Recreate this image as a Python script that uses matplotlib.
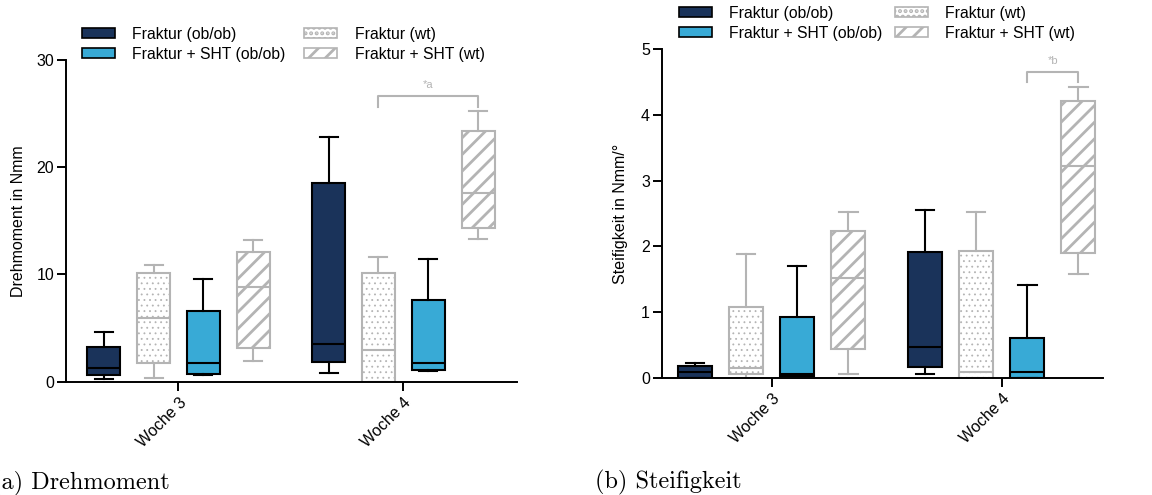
import matplotlib
matplotlib.use('Agg')
import matplotlib.pyplot as plt
from matplotlib.patches import Patch

plt.rcParams['font.family'] = ['Liberation Sans', 'DejaVu Sans']
plt.rcParams['hatch.linewidth'] = 2.0

# Gruppen und Reihen
weeks = ['Woche 3', 'Woche 4']
series = ['Fraktur (ob/ob)', 'Fraktur (wt)', 'Fraktur + SHT (ob/ob)', 'Fraktur + SHT (wt)']

# Drehmoment in Nmm: je Reihe [Woche 3, Woche 4]
torque_whislo = [[0.28, 0.84], [0.31, 0.0], [0.60, 1.03], [1.93, 13.34]]
torque_q1 = [[0.65, 1.81], [1.71, 0.0], [0.68, 1.12], [3.14, 14.34]]
torque_med = [[1.25, 3.55], [5.94, 2.99], [1.77, 1.74], [8.86, 17.63]]
torque_q3 = [[3.24, 18.56], [10.10, 10.17], [6.62, 7.62], [12.07, 23.41]]
torque_whishi = [[4.60, 22.85], [10.86, 11.66], [9.60, 11.44], [13.24, 25.22]]

# Steifigkeit in Nmm/°
stiff_whislo = [[0.0, 0.05], [0.0, 0.0], [0.02, 0.0], [0.05, 1.58]]
stiff_q1 = [[0.0, 0.17], [0.06, 0.0], [0.03, 0.0], [0.43, 1.90]]
stiff_med = [[0.08, 0.47], [0.14, 0.09], [0.06, 0.09], [1.52, 3.23]]
stiff_q3 = [[0.18, 1.92], [1.08, 1.93], [0.93, 0.60], [2.23, 4.22]]
stiff_whishi = [[0.22, 2.55], [1.89, 2.52], [1.70, 1.41], [2.53, 4.42]]

navy = '#1a335a'
blue = '#38aad6'
grey = '#b4b4b4'
styles = [
    dict(face=navy, edge='black', hatch=None),
    dict(face='white', edge=grey, hatch='...'),
    dict(face=blue, edge='black', hatch=None),
    dict(face='white', edge=grey, hatch='//'),
]
step = 0.222
width = 0.148


def draw_boxes(ax, whislo, q1, med, q3, whishi):
    for s in range(len(series)):
        st = styles[s]
        stats = []
        pos = []
        for w in range(len(weeks)):
            stats.append(dict(whislo=whislo[s][w], q1=q1[s][w], med=med[s][w],
                              q3=q3[s][w], whishi=whishi[s][w]))
            pos.append(w + (s - 1.5) * step)
        lw = 0.6 if st['hatch'] == '...' else 2.0
        with plt.rc_context({'hatch.linewidth': lw}):
            ax.bxp(stats, positions=pos, widths=width, capwidths=0.08,
                   showfliers=False, patch_artist=True,
                   boxprops=dict(facecolor=st['face'], edgecolor=st['edge'],
                                 hatch=st['hatch'], linewidth=1.5),
                   medianprops=dict(color=st['edge'], linewidth=1.5),
                   whiskerprops=dict(color=st['edge'], linewidth=1.5),
                   capprops=dict(color=st['edge'], linewidth=1.5))


def style_axis(ax, ylim, yticks, xlim):
    ax.set_xlim(*xlim)
    ax.set_ylim(*ylim)
    ax.set_yticks(yticks)
    ax.set_xticks(range(len(weeks)))
    ax.set_xticklabels(weeks, rotation=45, ha='right', va='top', rotation_mode='anchor')
    for sp in ['top', 'right']:
        ax.spines[sp].set_visible(False)
    for sp in ['left', 'bottom']:
        ax.spines[sp].set_linewidth(1.4)
    ax.tick_params(axis='both', direction='out', length=6.5, width=1.4, labelsize=11.5, pad=2)
    ax.tick_params(axis='x', pad=3)


def bracket(ax, x1, x2, y, drop, label):
    ax.plot([x1, x1, x2, x2], [y - drop, y, y, y - drop], color=grey, lw=1.5, clip_on=False)
    ax.text((x1 + x2) / 2, y + drop * 0.6, label, color=grey, fontsize=8, ha='center', va='bottom')


fig = plt.figure(figsize=(11.52, 4.95), dpi=100)

ax1 = fig.add_axes([0.0573, 0.2289, 0.3915, 0.6499])
draw_boxes(ax1, torque_whislo, torque_q1, torque_med, torque_q3, torque_whishi)
style_axis(ax1, (0, 30), [0, 10, 20, 30], (-0.5, 1.505))
ax1.set_ylabel('Drehmoment in Nmm', fontsize=11.5)
ax1.yaxis.set_label_coords(-0.089, 0.5)
bracket(ax1, 1 - 0.5 * step, 1 + 1.5 * step, 26.6, 0.95, '*a')

ax2 = fig.add_axes([0.5744, 0.2370, 0.3831, 0.6634])
draw_boxes(ax2, stiff_whislo, stiff_q1, stiff_med, stiff_q3, stiff_whishi)
style_axis(ax2, (0, 5), [0, 1, 2, 3, 4, 5], (-0.478, 1.44))
ax2.set_ylabel('Steifigkeit in Nmm/°', fontsize=11.5)
ax2.yaxis.set_label_coords(-0.076, 0.5)
bracket(ax2, 1 + 0.5 * step, 1 + 1.5 * step, 4.65, 0.15, '*b')

handles = [Patch(facecolor=st['face'], edgecolor=st['edge'], hatch=st['hatch'], linewidth=1.2)
           for st in styles]
# Reihenfolge: Spalte 1 ob/ob, Spalte 2 wt
order = [0, 2, 1, 3]
for ax, anchor, colsp in [(ax1, (82 / 1152, 1 - 27 / 495), 1.2), (ax2, (679 / 1152, 1 - 6 / 495), 0.8)]:
    fig.legend([handles[i] for i in order], [series[i] for i in order], ncol=2,
               loc='upper left', bbox_to_anchor=anchor, frameon=False, fontsize=11.3,
               borderpad=0, borderaxespad=0, handlelength=2.1, handleheight=0.6,
               handletextpad=1.1, columnspacing=colsp, labelspacing=0.3)

fig.text(-8 / 1152, 1 - 489 / 495, '(a) Drehmoment', fontfamily='cmr10', fontsize=17.5)
fig.text(595 / 1152, 1 - 488 / 495, '(b) Steifigkeit', fontfamily='cmr10', fontsize=17.5)

fig.savefig('out.png', dpi=100)
